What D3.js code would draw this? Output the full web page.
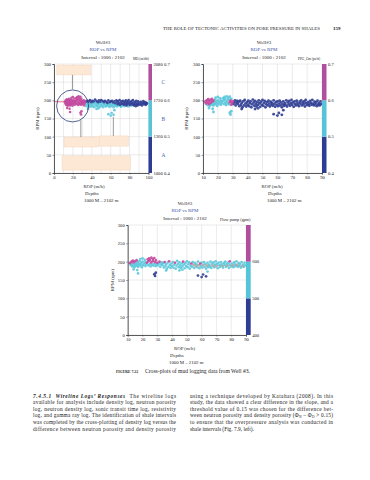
<!DOCTYPE html>
<html><head><meta charset="utf-8">
<script src="https://cdn.jsdelivr.net/npm/d3@7"></script>
<style>
html,body{margin:0;padding:0;background:#fff;}
svg{display:block;font-family:"Liberation Serif","Times New Roman",serif;}
</style></head><body>
<svg id="page" width="370" height="480"></svg>
<script>
// ---- DATA: [ROP (m/h), RPM, MD zone, PPG zone, Flow zone]  zone: 0 dark blue, 1 cyan, 2 magenta, 3 grey
const shallowPts = [
 [11.5,196,2,2,2],[12,191,2,2,1],[12.5,200,2,2,2],[13,187,2,1,1],[13,194,2,2,1],[13.5,203,2,2,2],
 [14,190,2,2,1],[14,198,2,2,2],[14.5,185,2,1,1],[15,193,2,2,1],[15,201,2,2,2],[15.5,188,2,1,1],
 [16,196,2,2,1],[16,204,2,2,2],[16.5,191,2,1,1],[17,186,2,1,1],[17,199,2,2,1],[17.5,194,2,1,1],
 [18,189,2,1,1],[18,202,2,1,1],[18.5,207,2,1,1],[19,192,2,1,1],[19,197,2,1,1],[19.5,185,2,1,1],
 [20,200,2,1,1],[20,209,2,1,1],[20.5,190,2,1,1],[21,195,2,1,1],[21.5,205,2,1,1],[22,188,2,1,1],
 [22,199,2,1,1],[22.5,193,2,1,1],[16.5,177,2,1,1],[14,179,2,1,1]
];
const blockPts = [
 [23,197,2,1,2],[23.5,206,2,1,2],[24,190,2,1,1],[24,201,2,1,2],[24.5,209,2,1,2],[25,194,2,1,1],
 [25,204,2,1,2],[25.5,187,2,1,1],[26,198,2,1,2],[26,211,2,1,2],[26.5,192,2,1,1],[27,202,2,1,2],
 [27,207,2,1,2],[27.5,189,2,1,1],[28,195,2,2,1],[28,210,2,1,2],[28.5,199,2,2,2],[29,188,2,2,1],
 [29,204,2,1,2],[29.5,193,2,2,1],[30,197,2,2,2],[30.5,190,2,0,1],[31,195,2,0,1],[31.5,200,2,0,2],
 [32,186,2,0,1],[32.5,193,2,0,1],[33,198,2,0,1]
];
const outlierPts = [
 [17,168,2,1,1],[28,166,2,1,0],[28.5,161,2,1,0],[29,170,2,1,0],[57.5,162,1,0,0],[60,158,1,0,0],
 [63,160,1,0,0],[64,173,1,0,1],[61,165,1,0,0],[36,176,1,0,1],[45,176,1,0,1],[47,178,1,0,1]
];
const midPts = [
 [33.5,190,1,0,1],[34,196,0,0,1],[34.5,184,1,0,1],[35,199,0,0,2],[35.5,188,1,0,1],[36,193,1,0,1],
 [36.5,181,1,0,1],[37,197,0,0,1],[37.5,186,1,0,1],[38,201,0,0,2],[38.5,191,1,0,1],[39,183,1,0,1],
 [39.5,195,0,0,1],[40,188,1,0,1],[40.5,199,0,0,1],[41,184,1,0,1],[41.5,192,1,0,1],[42,197,0,0,2],
 [42.5,181,1,0,1],[43,189,1,0,1],[43.5,202,0,0,1],[44,194,1,0,1],[44.5,185,1,0,1],[45,198,0,0,1],
 [45.5,190,1,0,1],[46,183,1,0,1],[46.5,195,0,0,1],[47,187,1,0,1],[47.5,200,0,0,2],[48,192,1,0,1],
 [48.5,182,1,0,1],[49,196,0,0,1],[49.5,188,1,0,1],[50,201,0,0,1],[50.5,185,1,0,1],[51,193,1,0,1],
 [51.5,198,0,0,1],[52,181,1,0,1],[52.5,189,1,0,1],[53,195,0,0,2],[53.5,186,1,0,1],[54,199,0,0,1],
 [54.5,191,1,0,3],[55,183,1,0,1],[55.5,196,0,0,1],[56,188,1,0,3],[56.5,193,0,0,1],[57,185,1,0,1],
 [57.5,200,0,0,1],[58,190,1,0,3],[58.5,182,1,0,1],[59,195,0,0,2],[59.5,187,1,0,1],[60,197,0,0,1],
 [60.5,184,1,0,1],[61,191,1,0,3],[61.5,199,0,0,1],[62,186,1,0,1],[62.5,194,0,0,1],[63,181,1,0,1],
 [63.5,189,1,0,3],[64,197,0,0,1],[64.5,185,1,0,1],[65,192,0,0,1]
];
const deepPts = [
 [65.5,187,1,0,1],[66,200,0,0,1],[66.5,183,1,0,1],[67,195,0,0,1],[67.5,189,0,0,3],[68,198,0,0,1],
 [68.5,185,1,0,1],[69,192,0,0,1],[69.5,201,0,0,1],[70,187,0,0,3],[70.5,194,0,0,1],[71,182,1,0,1],
 [71.5,197,0,0,1],[72,190,0,0,1],[72.5,186,1,0,1],[73,199,0,0,1],[73.5,193,0,0,1],[74,188,0,0,3],
 [74.5,184,1,0,1],[75,196,0,0,1],[75.5,191,0,0,1],[76,200,0,0,1],[76.5,186,0,0,1],[77,194,0,0,1],
 [77.5,189,0,0,3],[78,197,0,0,1],[78.5,183,1,0,1],[79,192,0,0,1],[79,201,0,0,2],[80,187,0,0,1],
 [80.5,195,0,0,1],[81,190,0,0,3],[81.5,185,1,0,1],[82,198,0,0,1],[82.5,193,0,0,1],[83,188,0,0,1],
 [83.5,201,0,0,1],[84,191,0,0,3],[84.5,186,0,0,1],[85,196,0,0,1],[85.5,189,0,0,1],[86,194,0,0,1],
 [86.5,184,0,0,1],[87,199,0,0,1],[87.5,188,0,0,3],[88,192,0,0,1],[88.5,186,0,0,1],[89,197,0,0,1],
 [89.5,190,0,0,1],[90.5,194,0,0,1],[91,188,0,0,1],[92,196,0,0,1],[92.5,191,0,0,1],[93,186,0,0,1],
 [94,193,0,0,1],[94.5,198,0,0,1],[95,189,0,0,1],[96,195,0,0,1],[96.5,191,0,0,1],[97,187,0,0,1],
 [97.5,194,0,0,1],[98,190,0,0,1],[98.5,192,0,0,1]
];
const trendLine = [[0,196],[14,196]];
const greyLine = [[54,192],[88,188]];

const rpmTicks = [0,50,100,150,200,250,300];
const ropTicks1 = [0,20,40,60,80,100];
const ropGrid1 = [0,10,20,30,40,50,60,70,80,90,100];
const ropTicks2 = [10,20,30,40,50,60,70,80,90];
const mdBreaks = [1000,1360,1720,2080];
const mdRatio = ["0.4","0.5","0.6","0.7"];
const mdZones = ["A","B","C"];
const ppgBreaks = [0.4,0.5,0.6,0.7];
const flowBreaks = [400,500,600,700];
const flowLabels = [400,500,600];

const allPts = [].concat(shallowPts, blockPts, outlierPts, midPts, deepPts);
const ptColors = ["#2d3c92","#5ac8dc","#c2479d","#a8a8a8"];
const barColors = ["#2e3d94","#55c4d8","#b04ea0"];
const svg = d3.select("#page");

function txt(g, x, y, s, size, opts={}) {
  const t = g.append("text").attr("x", x).attr("y", y).attr("font-size", size)
    .attr("fill", opts.fill || "#222").text(s);
  if (opts.anchor) t.attr("text-anchor", opts.anchor);
  if (opts.weight) t.attr("font-weight", opts.weight);
  if (opts.len) t.attr("textLength", opts.len).attr("lengthAdjust", "spacingAndGlyphs");
  return t;
}

function drawPlot(o) {
  const g = svg.append("g");
  const x = d3.scaleLinear().domain(o.xDom).range([o.left, o.right]);
  const y = d3.scaleLinear().domain([0, 300]).range([o.bottom, o.top]);
  g.append("g").selectAll("line").data(o.xGrid).join("line")
    .attr("x1", d => x(d)).attr("x2", d => x(d)).attr("y1", o.top).attr("y2", o.bottom)
    .attr("stroke", "#d6d6d6").attr("stroke-width", 0.5);
  g.append("g").selectAll("line").data(rpmTicks).join("line")
    .attr("x1", o.left).attr("x2", o.right).attr("y1", d => y(d)).attr("y2", d => y(d))
    .attr("stroke", "#d6d6d6").attr("stroke-width", 0.5);
  if (o.lines) o.lines.forEach(l => {
    g.append("path").datum(l.data.filter(d => d[0] >= o.xDom[0]).map(d => [Math.max(d[0], o.xDom[0]), d[1]]))
      .attr("d", d3.line().x(d => x(d[0])).y(d => y(d[1])))
      .attr("fill", "none").attr("stroke", l.color).attr("stroke-width", l.w);
  });
  const pts = allPts.filter(p => p[0] >= o.xDom[0] && p[0] <= o.xDom[1]);
  const ordered = [];
  o.order.forEach(z => pts.forEach(p => { if (p[o.zi] === z) ordered.push(p); }));
  g.append("g").selectAll("circle").data(ordered).join("circle")
    .attr("cx", d => x(d[0])).attr("cy", d => y(d[1])).attr("r", o.r)
    .attr("fill", d => ptColors[d[o.zi]]).attr("fill-opacity", 0.9);
  const ya = g.append("g").attr("transform", `translate(${o.left},0)`)
    .call(d3.axisLeft(y).tickValues(rpmTicks).tickSize(1.5).tickPadding(1.5));
  const xa = g.append("g").attr("transform", `translate(0,${o.bottom})`)
    .call(d3.axisBottom(x).tickValues(o.xTicks).tickSize(1.5).tickPadding(1.2));
  [ya, xa].forEach(a => {
    a.select(".domain").attr("stroke", "#333").attr("stroke-width", 0.8);
    a.selectAll(".tick line").attr("stroke", "#333").attr("stroke-width", 0.5);
    a.selectAll("text").attr("font-size", 4.6).attr("fill", "#222")
      .attr("font-family", "Liberation Serif, serif");
  });
  const c = d3.scaleLinear().domain([o.cb[0], o.cb[o.cb.length - 1]]).range([o.bottom, o.top]);
  const bands = d3.pairs(o.cb);
  g.append("g").selectAll("rect").data(bands).join("rect")
    .attr("x", o.right).attr("width", o.cbw)
    .attr("y", d => c(d[1])).attr("height", d => c(d[0]) - c(d[1]))
    .attr("fill", (d, i) => barColors[i]);
  o.cbLabels.forEach((v, i) => {
    const yy = c(o.cbLabelVals[i]);
    txt(g, o.right + o.cbw + 1.5, yy + 1.6, v, 4.6);
    if (o.cbLabels2) txt(g, o.right + o.cbw + 12, yy + 1.6, o.cbLabels2[i], 4.6);
  });
  if (o.zones) bands.forEach((b, i) => {
    txt(g, o.right + o.cbw + 9.5, (c(b[0]) + c(b[1])) / 2 + 2, o.zones[i], 5.4, {fill: "#4a66b3"});
  });
  const tc = o.titleX;
  txt(g, tc, o.top - 20, "Well#3", 5, {anchor: "middle"});
  txt(g, tc, o.top - 12.7, "ROP vs RPM", 5, {anchor: "middle", fill: "#3d55a6"});
  txt(g, tc, o.top - 5.5, "Interval : 1000 : 2102", 5, {anchor: "middle"});
  txt(g, o.legX, o.top - 4.5, o.legend, o.legSize);
  g.append("text").attr("transform", `translate(${o.yLabX},${(o.top + o.bottom) / 2}) rotate(-90)`)
    .attr("text-anchor", "middle").attr("font-size", 4.8).attr("fill", "#222").text("RPM (rpm)");
  txt(g, o.ropX, o.bottom + 14.6, "ROP (m/h)", 4.8, {anchor: "middle"});
  txt(g, o.depX, o.bottom + 22.2, "Depths", 4.8);
  txt(g, o.depX - 1, o.bottom + 28.8, "1000 M \u2013 2102 m", 4.8);
  return {g, x, y};
}

const hdr = svg.append("g");
txt(hdr, 163, 30, "THE ROLE OF TECTONIC ACTIVITIES ON PORE PRESSURE IN SHALES", 4.6, {len: 157});
txt(hdr, 333, 30, "159", 5, {weight: "bold"});

const p1 = drawPlot({left: 54, right: 148.5, top: 64, bottom: 173, xDom: [0, 100], xTicks: ropTicks1,
  xGrid: ropGrid1, zi: 2, order: [1, 0, 2], r: 1.3, cb: mdBreaks, cbw: 3.5,
  cbLabels: mdBreaks.map(String), cbLabelVals: mdBreaks, cbLabels2: mdRatio, zones: mdZones,
  titleX: 103, legX: 133, legend: "MD (m/dft)", legSize: 3.4, yLabX: 38.5, ropX: 94, depX: 85,
  lines: [{data: trendLine, color: "#e4607c", w: 0.9}]});

const annoBoxes = [[3, 39, 297, 270], [10.6, 46.8, 99, 71.6], [47.9, 78.7, 102, 74], [8.5, 80.9, 47, 8]];
const annoLinks = [[19.5, 270, 19.5, 231], [28.4, 146, 28.4, 99], [62.8, 154, 62.8, 102]];
const annoCircle = [19.7, 184.6];
p1.g.append("g").selectAll("rect").data(annoBoxes).join("rect")
  .attr("x", d => p1.x(d[0])).attr("width", d => p1.x(d[1]) - p1.x(d[0]))
  .attr("y", d => p1.y(d[2])).attr("height", d => p1.y(d[3]) - p1.y(d[2]))
  .attr("fill", "#fde8d6").attr("stroke", "#f5d3b8").attr("stroke-width", 0.5);
p1.g.append("g").selectAll("line").data(annoLinks).join("line")
  .attr("x1", d => p1.x(d[0])).attr("y1", d => p1.y(d[1])).attr("x2", d => p1.x(d[2])).attr("y2", d => p1.y(d[3]))
  .attr("stroke", "#555").attr("stroke-width", 0.6);
p1.g.append("circle").attr("cx", p1.x(annoCircle[0])).attr("cy", p1.y(annoCircle[1])).attr("r", 16)
  .attr("fill", "none").attr("stroke", "#2b3a78").attr("stroke-width", 0.8);

drawPlot({left: 203, right: 322, top: 64, bottom: 173, xDom: [10, 90], xTicks: ropTicks2,
  xGrid: ropTicks2, zi: 3, order: [0, 1, 2], r: 1.45, cb: ppgBreaks, cbw: 4.5,
  cbLabels: ppgBreaks.map(d => d.toFixed(1)), cbLabelVals: ppgBreaks,
  titleX: 264, legX: 298, legend: "PPG_Gm (ps/ft)", legSize: 3.4, yLabX: 188, ropX: 272, depX: 268,
  lines: [{data: trendLine, color: "#e4607c", w: 0.9}]});

drawPlot({left: 127.7, right: 246, top: 225, bottom: 335, xDom: [10, 90], xTicks: ropTicks2,
  xGrid: ropTicks2, zi: 4, order: [1, 3, 2, 0], r: 1.35, cb: flowBreaks, cbw: 4.7,
  cbLabels: flowLabels.map(String), cbLabelVals: flowLabels,
  titleX: 185, legX: 220, legend: "Flow pump (gpm)", legSize: 4.2, yLabX: 113.5, ropX: 184.5, depX: 170,
  lines: [{data: greyLine, color: "#a9a9a9", w: 0.8}]});

const cap = svg.append("g");
txt(cap, 116, 372.5, "FIGURE 7.22", 4.6, {weight: "bold", len: 22});
txt(cap, 145, 372.5, "Cross-plots of mud logging data from Well #3.", 5.2, {len: 105});

const body = svg.append("g").attr("font-size", 5.4).attr("fill", "#222");
const leftLines = [
  "available for analysis include density log, neutron porosity",
  "log, neutron density log, sonic transit time log, resistivity",
  "log, and gamma ray log. The identification of shale intervals",
  "was completed by the cross-plotting of density log versus the",
  "difference between neutron porosity and density porosity"
];
const rightLines = [
  "using a technique developed by Katahara (2008). In this",
  "study, the data showed a clear difference in the slope, and a",
  "threshold value of 0.15 was chosen for the difference bet-",
  null,
  "to ensure that the overpressure analysis was conducted in",
  "shale intervals (Fig. 7.9, left)."
];
const lh = 6.66, by = 397.5;
const t0 = body.append("text").attr("x", 33).attr("y", by).attr("textLength", 143).attr("lengthAdjust", "spacing");
t0.append("tspan").attr("font-weight", "bold").attr("font-style", "italic").text("7.4.5.1\u00a0\u00a0Wireline Logs\u2019 Responses");
t0.append("tspan").text("\u00a0\u00a0The wireline logs");
leftLines.forEach((s, i) => {
  body.append("text").attr("x", 33).attr("y", by + lh * (i + 1)).attr("textLength", 143)
    .attr("lengthAdjust", "spacing").text(s);
});
rightLines.forEach((s, i) => {
  if (s === null) {
    const t = body.append("text").attr("x", 190).attr("y", by + lh * i).attr("textLength", 143).attr("lengthAdjust", "spacing");
    t.append("tspan").text("ween neutron porosity and density porosity (\u03a6");
    t.append("tspan").attr("font-size", 3.6).attr("dy", 1).text("N");
    t.append("tspan").attr("dy", -1).text(" \u2013 \u03a6");
    t.append("tspan").attr("font-size", 3.6).attr("dy", 1).text("D");
    t.append("tspan").attr("dy", -1).text(" > 0.15)");
    return;
  }
  const t = body.append("text").attr("x", 190).attr("y", by + lh * i).text(s);
  if (i < rightLines.length - 1) t.attr("textLength", 143).attr("lengthAdjust", "spacing");
});
</script>
</body></html>
